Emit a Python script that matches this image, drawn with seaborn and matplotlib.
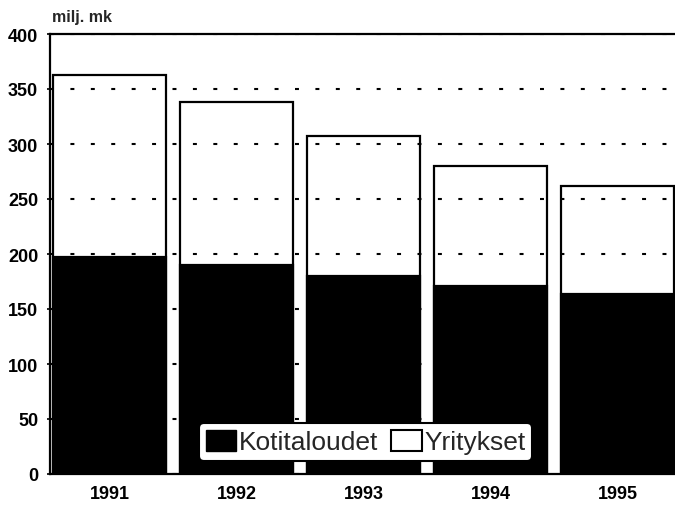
import matplotlib
matplotlib.use("Agg")
import matplotlib.pyplot as plt
import pandas as pd
import seaborn as sns
from matplotlib.patches import Patch

# ── data ────────────────────────────────────────────────────────────────────
years = ["1991", "1992", "1993", "1994", "1995"]
kotitaloudet = [197, 190, 180, 171, 164]   # households
yritykset = [166, 148, 127, 109, 98]        # companies
yticks = [0, 50, 100, 150, 200, 250, 300, 350, 400]

df = pd.DataFrame({"vuosi": years, "koti": kotitaloudet, "yri": yritykset})
df["yhteensa"] = df["koti"] + df["yri"]

sns.set_theme(style="white")
plt.rcParams["font.family"] = ["Liberation Sans", "DejaVu Sans"]
plt.rcParams["font.weight"] = "bold"

fig = plt.figure(figsize=(6.75, 5.06), dpi=100)
ax = fig.add_axes([50 / 675, 1 - 475 / 506, 625 / 675, 440 / 506])

# white total bars underneath, black household share on top
sns.barplot(data=df, x="vuosi", y="yhteensa", color="white", edgecolor="black",
            linewidth=1.6, width=0.89, saturation=1, ax=ax, zorder=2)
sns.barplot(data=df, x="vuosi", y="koti", color="black", edgecolor="black",
            linewidth=1.6, width=0.89, saturation=1, ax=ax, zorder=4)

ax.set_xlim(-0.47, 4.45)
ax.set_ylim(0, 400)
ax.set_yticks(yticks)
# dashed grid shows through the white part of the bars (axis zorder 2.5)
ax.set_axisbelow(False)
ax.yaxis.grid(True, color="black", linestyle=(0, (1.9, 7.9)), linewidth=1.5)
ax.set_xlabel("")
ax.set_ylabel("")

for s in ["left", "top", "bottom"]:
    ax.spines[s].set_color("black")
    ax.spines[s].set_linewidth(1.6)
    ax.spines[s].set_zorder(5)
ax.spines["right"].set_visible(False)

ax.tick_params(axis="y", length=5, width=1.2, color="black", direction="inout",
               labelsize=13, pad=6, left=True)
ax.tick_params(axis="x", length=0, labelsize=13, pad=8)
for lab in ax.get_xticklabels() + ax.get_yticklabels():
    lab.set_fontweight("bold")
    lab.set_color("black")

ax.text(0.003, 1.022, "milj. mk", transform=ax.transAxes, fontsize=11.5,
        fontweight="bold", ha="left", va="bottom")

handles = [Patch(facecolor="black", edgecolor="black", label="Kotitaloudet"),
           Patch(facecolor="white", edgecolor="black", linewidth=1.5, label="Yritykset")]
leg = ax.legend(handles=handles, loc="lower center", bbox_to_anchor=(0.505, 0.03),
                borderaxespad=0, ncol=2, frameon=True, fancybox=True,
                handlelength=1.15, handleheight=0.85, handletextpad=0.1,
                columnspacing=0.5, borderpad=0.25, prop={"weight": "normal", "size": 19})
leg.get_frame().set_edgecolor("black")
leg.get_frame().set_linewidth(1.5)
leg.get_frame().set_alpha(1)
leg.set_zorder(10)

fig.savefig("out.png", dpi=100)
